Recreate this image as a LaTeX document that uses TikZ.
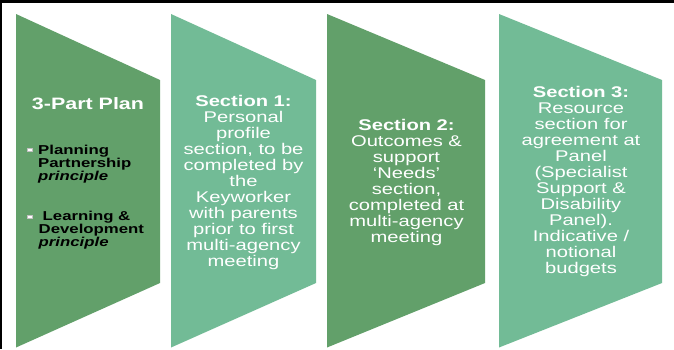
\documentclass[tikz,border=0pt]{standalone}
\usepackage{fontspec}
\setmainfont{Liberation Sans}[FakeStretch=1.3]
\definecolor{dkgreen}{RGB}{98,160,106}
\definecolor{ltgreen}{RGB}{114,187,150}
\newcommand{\mylinesc}[1]{\begin{tabular}[t]{@{}c@{}}#1\end{tabular}}
\newcommand{\mylinesl}[1]{\begin{tabular}[t]{@{}l@{}}#1\end{tabular}}
\begin{document}
\begin{tikzpicture}[x=1pt,y=-1pt,
  sect/.style={anchor=base, inner sep=0pt, text=white, font=\fontsize{15.5}{16}\selectfont},
  item/.style={anchor=base west, inner sep=0pt, text=black, font=\bfseries\fontsize{12.9}{12.3}\selectfont},
  bul/.style={fill=white, draw=black!25, line width=0.3pt}]
\useasboundingbox (0,0) rectangle (674,349);
\fill[white] (0,0) rectangle (674,349);
\fill[black] (0,0) rectangle (674,3);
\fill[black] (0,0) rectangle (2,349);
% panels
\fill[dkgreen] (16,14) -- (160,80) -- (160,283) -- (16,347.5) -- cycle;
\fill[ltgreen] (171,14) -- (316,80) -- (316,283) -- (171,347.5) -- cycle;
\fill[dkgreen] (327,14) -- (485,80) -- (485,283) -- (327,347.5) -- cycle;
\fill[ltgreen] (499,14) -- (662,80) -- (662,283) -- (499,347.5) -- cycle;
% panel 1 text
\node[anchor=base, inner sep=0pt, text=white, font=\bfseries\fontsize{16.5}{17}\selectfont] (plan) at (88,109) {3-Part Plan};
\fill[bul] (27,148.3) rectangle (32,151);
\node[item] (it1) at (38,154) {\mylinesl{Planning\\Partnership\\\textit{principle}}};
\fill[bul] (27.3,215) rectangle (32.3,217.7);
\node[item] (it2) at (38.5,220) {\mylinesl{\hspace{4pt}Learning \&\\Development\\\textit{principle}}};
% sections
\node[sect] (s1) at (243.5,106) {\mylinesc{\textbf{Section 1:}\\Personal\\profile\\section, to be\\completed by\\the\\Keyworker\\with parents\\prior to first\\multi-agency\\meeting}};
\node[sect] (s2) at (406.5,130) {\mylinesc{\textbf{Section 2:}\\Outcomes \&\\support\\‘Needs’\\section,\\completed at\\multi-agency\\meeting}};
\node[sect] (s3) at (581,97) {\mylinesc{\textbf{Section 3:}\\Resource\\section for\\agreement at\\Panel\\(Specialist\\Support \&\\Disability\\Panel).\\Indicative /\\notional\\budgets}};
\end{tikzpicture}
\end{document}
